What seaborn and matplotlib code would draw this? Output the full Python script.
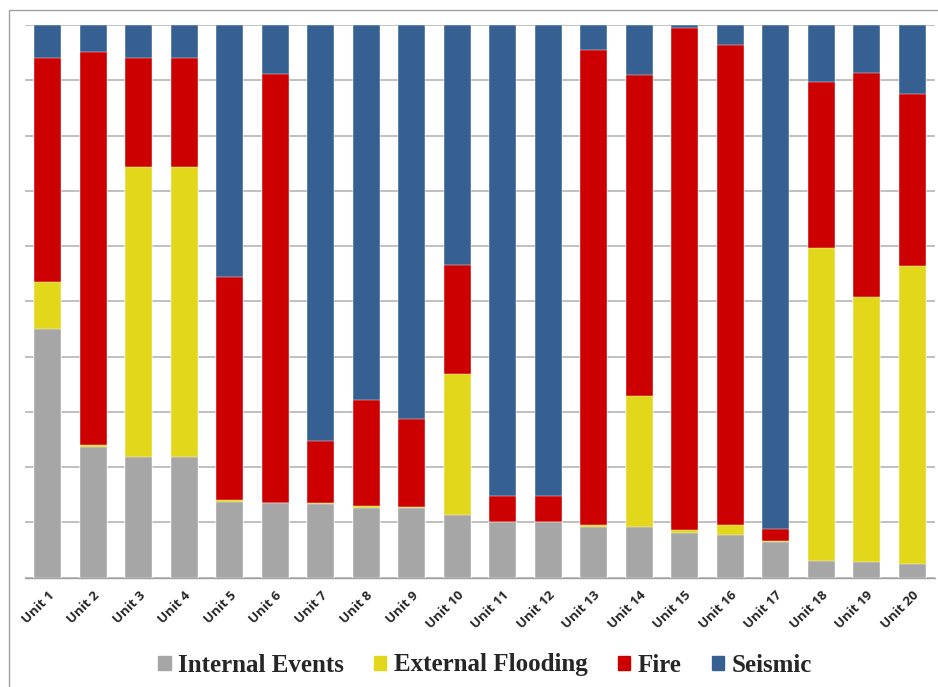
import matplotlib.pyplot as plt
import matplotlib.patches as mpatches
import numpy as np
import pandas as pd
import seaborn as sns

# Share of each hazard per unit (fractions of 1)
units = ["Unit %d" % i for i in range(1, 21)]
internal = [0.450, 0.237, 0.219, 0.219, 0.136, 0.134, 0.133, 0.126, 0.125, 0.114,
            0.100, 0.100, 0.092, 0.091, 0.081, 0.077, 0.064, 0.029, 0.028, 0.025]
flooding = [0.085, 0.002, 0.524, 0.524, 0.004, 0.000, 0.002, 0.003, 0.003, 0.254,
            0.000, 0.000, 0.003, 0.238, 0.005, 0.018, 0.002, 0.568, 0.479, 0.539]
fire = [0.406, 0.712, 0.198, 0.198, 0.403, 0.778, 0.112, 0.193, 0.159, 0.198,
        0.048, 0.048, 0.859, 0.581, 0.909, 0.868, 0.021, 0.299, 0.406, 0.312]
seismic = [0.059, 0.049, 0.059, 0.059, 0.457, 0.088, 0.753, 0.678, 0.713, 0.434,
           0.852, 0.852, 0.046, 0.090, 0.005, 0.037, 0.913, 0.104, 0.087, 0.124]

series = ["Internal Events", "External Flooding", "Fire", "Seismic"]
colors = ["#A6A6A6", "#E3D71B", "#CC0000", "#376092"]

df = pd.DataFrame({"unit": units, "Internal Events": internal,
                   "External Flooding": flooding, "Fire": fire, "Seismic": seismic})
# normalise to 100% and build cumulative tops for stacking
tot = df[series].sum(axis=1)
cum = df[series].div(tot, axis=0).cumsum(axis=1)

sns.set_style("white")
fig = plt.figure(figsize=(9.38, 6.87), dpi=100)
ax = fig.add_axes([25 / 938, 1 - 577.5 / 687, 910 / 938, 552.5 / 687])

# draw from the tallest cumulative layer down so each layer covers the next
for name, col in zip(series[::-1], colors[::-1]):
    sns.barplot(x=df["unit"], y=cum[name], color=col, width=0.6, ax=ax,
                saturation=1, edgecolor="white", linewidth=0.3, zorder=3)

ax.set_ylim(0, 1)
ax.set_xlim(-0.5, 19.5)
ax.set_yticks(np.arange(0, 1.01, 0.1))
ax.set_yticklabels([])
ax.tick_params(axis="y", length=0)
ax.grid(axis="y", color="#C0C0C0", linewidth=1.4, zorder=0)
ax.set_axisbelow(True)
for s in ["left", "right", "top"]:
    ax.spines[s].set_visible(False)
ax.spines["bottom"].set_color("#A0A0A0")
ax.spines["bottom"].set_linewidth(1)

ax.set_xticks(np.arange(-0.5, 20, 1), minor=True)
ax.tick_params(axis="x", which="minor", length=5, color="#A0A0A0", width=1)
ax.tick_params(axis="x", which="major", length=0, pad=8)
ax.set_xticks(range(20))
ax.set_xticklabels(units, rotation=45, ha="right", rotation_mode="anchor",
                   fontsize=9.5, fontweight="bold", family="Open Sans")
ax.set_xlabel("")
ax.set_ylabel("")

handles = [mpatches.Patch(color=c, label=n) for n, c in zip(series, colors)]
fig.legend(handles=handles, loc="center", bbox_to_anchor=(485 / 938, 1 - 665 / 687),
           ncol=4, frameon=False, handlelength=0.5, handleheight=0.5,
           handletextpad=0.3, columnspacing=1.2,
           prop={"family": "Liberation Serif", "weight": "bold", "size": 18})

# outer frame of the original picture
fig.add_artist(mpatches.Rectangle((9 / 938, -0.1), 1.2, 1 - 10 / 687 + 0.1,
                                  transform=fig.transFigure, fill=False,
                                  edgecolor="#A0A0A0", linewidth=1))

fig.savefig("out.png", dpi=100)
